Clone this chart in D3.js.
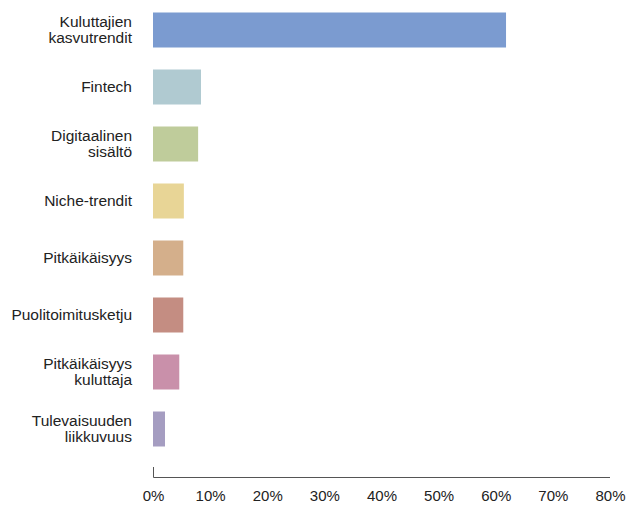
<!DOCTYPE html>
<html>
<head>
<meta charset="utf-8">
<script src="https://cdn.jsdelivr.net/npm/d3@7"></script>
<style>
  body { margin: 0; background: #fff; }
  text { font-family: "Liberation Sans", Arial, Helvetica, sans-serif; }
</style>
</head>
<body>
<div id="chart"></div>
<script>
// Data
var categories = [
  ["Kuluttajien", "kasvutrendit"],
  ["Fintech"],
  ["Digitaalinen", "sisältö"],
  ["Niche-trendit"],
  ["Pitkäikäisyys"],
  ["Puolitoimitusketju"],
  ["Pitkäikäisyys", "kuluttaja"],
  ["Tulevaisuuden", "liikkuvuus"]
];
var values = [61.8, 8.4, 7.9, 5.4, 5.3, 5.3, 4.6, 2.1];
var colors = ["#7b9bd0", "#b0cad1", "#bfcc9b", "#e8d596", "#d4af8b", "#c48d82", "#c990aa", "#a59dc1"];
var xTicks = [0, 10, 20, 30, 40, 50, 60, 70, 80];

var svgWidth = 626;
var svgHeight = 505;

var svg = d3.select("#chart")
  .append("svg")
  .attr("width", svgWidth)
  .attr("height", svgHeight);

var xScale = d3.scaleLinear()
  .domain([0, 80])
  .range([153, 610]);

var yScale = d3.scaleBand()
  .domain(d3.range(categories.length))
  .range([1.5, 457.5])
  .paddingInner(0.386)
  .paddingOuter(0.193);

// bars
svg.selectAll("rect.bar")
  .data(values)
  .enter()
  .append("rect")
  .attr("class", "bar")
  .attr("x", xScale(0))
  .attr("y", (d, i) => yScale(i))
  .attr("width", d => xScale(d) - xScale(0))
  .attr("height", yScale.bandwidth())
  .attr("fill", (d, i) => colors[i]);

// category labels
var labels = svg.selectAll("text.cat")
  .data(categories)
  .enter()
  .append("text")
  .attr("class", "cat")
  .attr("text-anchor", "end")
  .attr("font-size", "15.5px")
  .attr("fill", "#222");

labels.each(function(lines, i) {
  var cy = yScale(i) + yScale.bandwidth() / 2;
  var lh = 16.5;
  var start = cy - (lines.length - 1) * lh / 2;
  d3.select(this).selectAll("tspan")
    .data(lines)
    .enter()
    .append("tspan")
    .attr("x", 132)
    .attr("y", (l, j) => start + j * lh)
    .attr("dy", "0.33em")
    .text(l => l);
});

// x axis
var axisY = 477;
var bottomAxis = d3.axisBottom(xScale)
  .tickValues(xTicks)
  .tickSize(0)
  .tickPadding(13)
  .tickFormat(d => d + "%");

var axisG = svg.append("g")
  .attr("transform", `translate(0, ${axisY})`)
  .call(bottomAxis);

axisG.select(".domain")
  .attr("stroke", "#555")
  .attr("stroke-width", 1)
  .attr("d", `M${xScale(0) + 0.5},-10V0.5H${xScale(80)}`);

axisG.selectAll(".tick text")
  .attr("font-size", "15px")
  .attr("font-family", "\"Liberation Sans\", Arial, sans-serif")
  .attr("fill", "#222");
</script>
</body>
</html>
